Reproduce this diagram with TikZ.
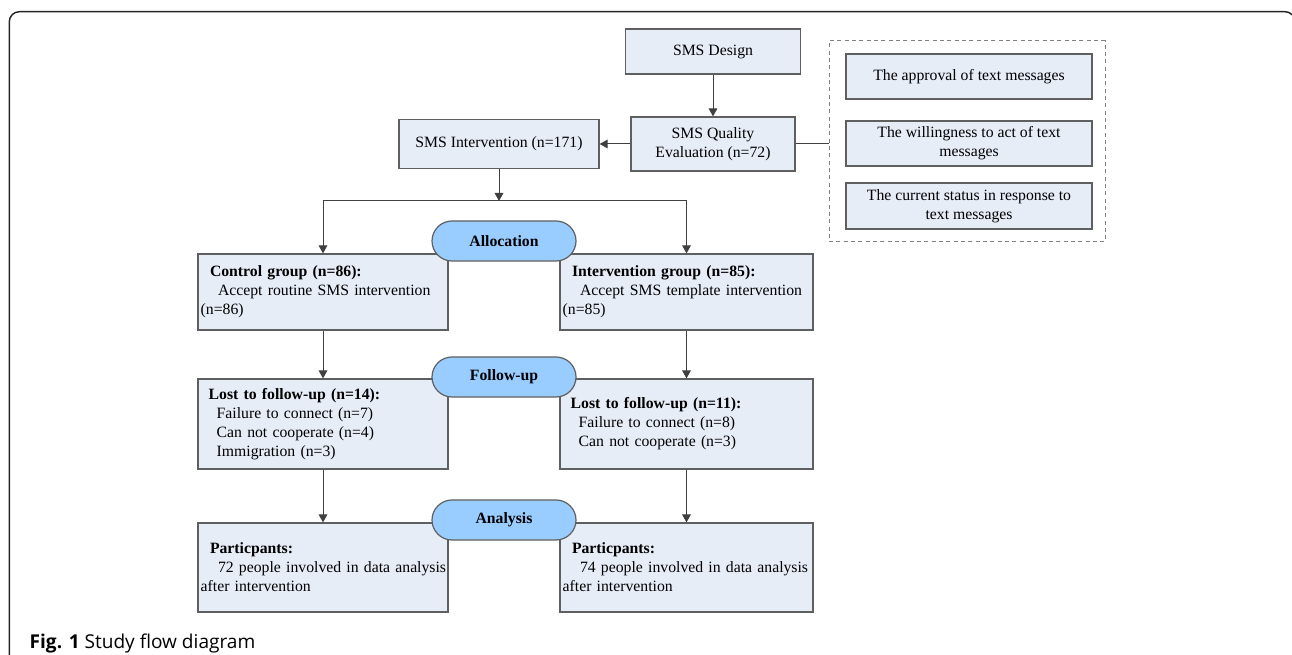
\documentclass[tikz,border=0pt]{standalone}
\usepackage{fontspec}
\setmainfont{Liberation Serif}
\newfontfamily\capfont{Open Sans}
\usetikzlibrary{arrows.meta}

\definecolor{boxfill}{HTML}{E7EDF7}
\definecolor{boxline}{HTML}{5F5F5F}
\definecolor{pillfill}{HTML}{99CCFF}
\definecolor{linkline}{HTML}{404040}

\begin{document}
\begin{tikzpicture}
  [x=0.75pt,y=-0.75pt,
   every node/.style={font=\fontsize{11.8}{14.25}\selectfont},
   box/.style={rectangle,draw=boxline,fill=boxfill,line width=0.9pt,align=center,inner sep=2pt},
   txtbox/.style={box,align=left,inner xsep=2pt,text width=#1},
   pill/.style={rectangle,rounded corners=15pt,draw=boxline,fill=pillfill,line width=0.9pt,
     minimum width=108pt,minimum height=30pt,font=\fontsize{11.8}{14.25}\selectfont\bfseries},
   panel/.style={rectangle,draw=black!50,dash pattern=on 3pt off 2.5pt,line width=0.75pt},
   link/.style={draw=linkline,line width=0.75pt,-{Triangle[width=6.5pt,length=6pt]}},
   plain/.style={draw=linkline,line width=0.75pt},
   frame/.style={draw=black!85,line width=1.1pt,rounded corners=7.5pt}]
    \useasboundingbox (0,0) rectangle (1292,655);
    \clip (0,0) rectangle (1292,655);
    \draw[frame] (9.3,11.7) rectangle (1295,720);

    \node (design)  [box,minimum width=131.25pt,minimum height=33.75pt] at (713,51.5) {SMS Design};
    \node (quality) [box,minimum width=123pt,minimum height=40.5pt] at (713,144) {SMS Quality\\Evaluation (n=72)};
    \node (smsint)  [box,minimum width=150pt,minimum height=36.75pt] at (499,144) {SMS Intervention (n=171)};

    \node (aspects) [panel,minimum width=207pt,minimum height=150.75pt] at (967,141.5) {};
    \node (approval) [box,minimum width=184.5pt,minimum height=33.75pt] at (969,76.5) {The approval of text messages};
    \node (willing)  [box,minimum width=184.5pt,minimum height=33.75pt] at (969,143.5) {The willingness to act of text\\messages};
    \node (status)   [box,minimum width=184.5pt,minimum height=34.5pt] at (969,206) {The current status in response to\\text messages};

    \node (ctrl)   [txtbox=183.5pt,minimum height=57pt] at (323,292)
      {\hspace*{7pt}\textbf{Control group (n=86):}\\\hspace*{13pt}Accept routine SMS intervention\\(n=86)};
    \node (intgrp) [txtbox=185.75pt,minimum height=57pt] at (686.5,292)
      {\hspace*{7pt}\textbf{Intervention group (n=85):}\\\hspace*{13pt}Accept SMS template intervention\\(n=85)};
    \node (lostc)  [txtbox=183.5pt,minimum height=67.5pt] at (323,424)
      {\hspace*{6pt}\textbf{Lost to follow-up (n=14):}\\\hspace*{12pt}Failure to connect (n=7)\\\hspace*{12pt}Can not cooperate (n=4)\\\hspace*{12pt}Immigration (n=3)};
    \node (losti)  [txtbox=185.75pt,minimum height=67.5pt] at (686.5,424)
      {\hspace*{6pt}\textbf{Lost to follow-up (n=11):}\\\hspace*{12pt}Failure to connect (n=8)\\\hspace*{12pt}Can not cooperate (n=3)};
    \node (partc)  [txtbox=183.5pt,minimum height=66.75pt] at (323,567.5)
      {\hspace*{7pt}\textbf{Particpants:}\\\hspace*{13pt}\mbox{72 people involved in data analysis}\\after intervention};
    \node (parti)  [txtbox=185.75pt,minimum height=66.75pt] at (686.5,567.5)
      {\hspace*{7pt}\textbf{Particpants:}\\\hspace*{13pt}\mbox{74 people involved in data analysis}\\after intervention};

    \node (alloc)    [pill] at (504,241) {Allocation};
    \node (followup) [pill] at (504,377) {Follow-up};
    \node (analysis) [pill] at (504,520) {Analysis};

    \coordinate (split) at (499,201);
    \draw[link] (design) -- (quality);
    \draw[link] (quality) -- (smsint);
    \draw[plain] (quality.east) -- (quality.east -| aspects.west);
    \draw[link] (smsint) -- (split);
    \draw[link] (split) -| (ctrl);
    \draw[link] (split) -| (intgrp);
    \foreach \from/\to in {ctrl/lostc,lostc/partc,intgrp/losti,losti/parti}
      \draw[link] (\from) -- (\to);

    \node (caption) [anchor=base west,font=\capfont\fontsize{14.3}{17}\selectfont] at (25,648)
      {\textbf{Fig. 1} Study flow diagram};
  \end{tikzpicture}
\end{document}
